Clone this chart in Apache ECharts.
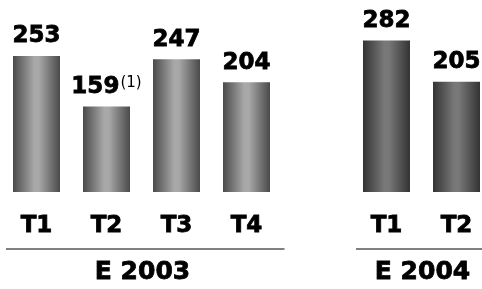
<!DOCTYPE html>
<html>
<head>
<meta charset="utf-8">
<script src="https://cdn.jsdelivr.net/npm/echarts@6/dist/echarts.min.js"></script>
<style>
html,body{margin:0;padding:0;background:#fff;}
#c{width:482px;height:289px;}
</style>
</head>
<body>
<div id="c"></div>
<script>
// Data
var categories = ['T1', 'T2', 'T3', 'T4', '', 'T1', 'T2'];
var values = [253, 159, 247, 204, null, 282, 205];
var notes = ['', '(1)', '', '', '', '', ''];
var yearOf = [0, 0, 0, 0, -1, 1, 1];
var groups = ['E 2003', 'E 2004'];
var groupSpan = [[0, 3], [5, 6]];

var FONT = 'DejaVu Sans';

function grad(dark, light) {
  return new echarts.graphic.LinearGradient(0, 0, 1, 0, [
    {offset: 0, color: dark},
    {offset: 0.45, color: light},
    {offset: 0.55, color: light},
    {offset: 1, color: dark}
  ]);
}
var styles = [grad('#4a4a4a', '#a8a8a8'), grad('#333333', '#787878')];

var chart = echarts.init(document.getElementById('c'), null, {renderer: 'canvas'});

var seriesData = values.map(function (v, i) {
  if (v == null) return {value: null};
  return {value: v, itemStyle: {color: styles[yearOf[i]]}};
});

var bold = {fontFamily: FONT, fontWeight: 'bold', color: '#000', textBorderColor: '#000', textBorderWidth: 0.8};

chart.setOption({
  animation: false,
  grid: {left: 1.5, width: 490, top: 30.75, bottom: 97, containLabel: false, outerBoundsMode: 'none'},
  xAxis: {
    type: 'category',
    data: categories,
    axisLine: {show: false},
    axisTick: {show: false},
    axisLabel: Object.assign({interval: 0, margin: 23, fontSize: 23}, bold)
  },
  yAxis: {type: 'value', min: 0, max: 300, show: false, splitLine: {show: false}},
  series: [{
    type: 'bar',
    data: seriesData,
    barWidth: 47,
    label: {
      show: true,
      position: 'top',
      distance: 8,
      formatter: function (p) {
        var n = notes[p.dataIndex];
        return '{v|' + p.value + '}' + (n ? '{s|' + n + '}' : '');
      },
      rich: {
        v: Object.assign({fontSize: 23}, bold),
        s: {fontFamily: FONT, fontWeight: 'normal', fontSize: 15, color: '#000', verticalAlign: 'top', padding: [0, 0, 0, 1]}
      }
    }
  }]
});

function px(i) { return chart.convertToPixel({xAxisIndex: 0}, i); }
var lineY = 249;
var g = [];
groupSpan.forEach(function (s, k) {
  var x0 = px(s[0]) - 30.5;
  var x1 = k === 0 ? px(s[1]) + 38 : 482;
  g.push({type: 'line', shape: {x1: x0, y1: lineY, x2: x1, y2: lineY}, style: {stroke: '#808080', lineWidth: 2}});
  g.push({type: 'text', x: (px(s[0]) + px(s[1])) / 2 + 1, y: 272.5,
    style: {text: groups[k], fontFamily: FONT, fontWeight: 'bold', fontSize: 25, fill: '#000', stroke: '#000', lineWidth: 0.8, align: 'center', verticalAlign: 'middle'}});
});
chart.setOption({graphic: g});
</script>
</body>
</html>
